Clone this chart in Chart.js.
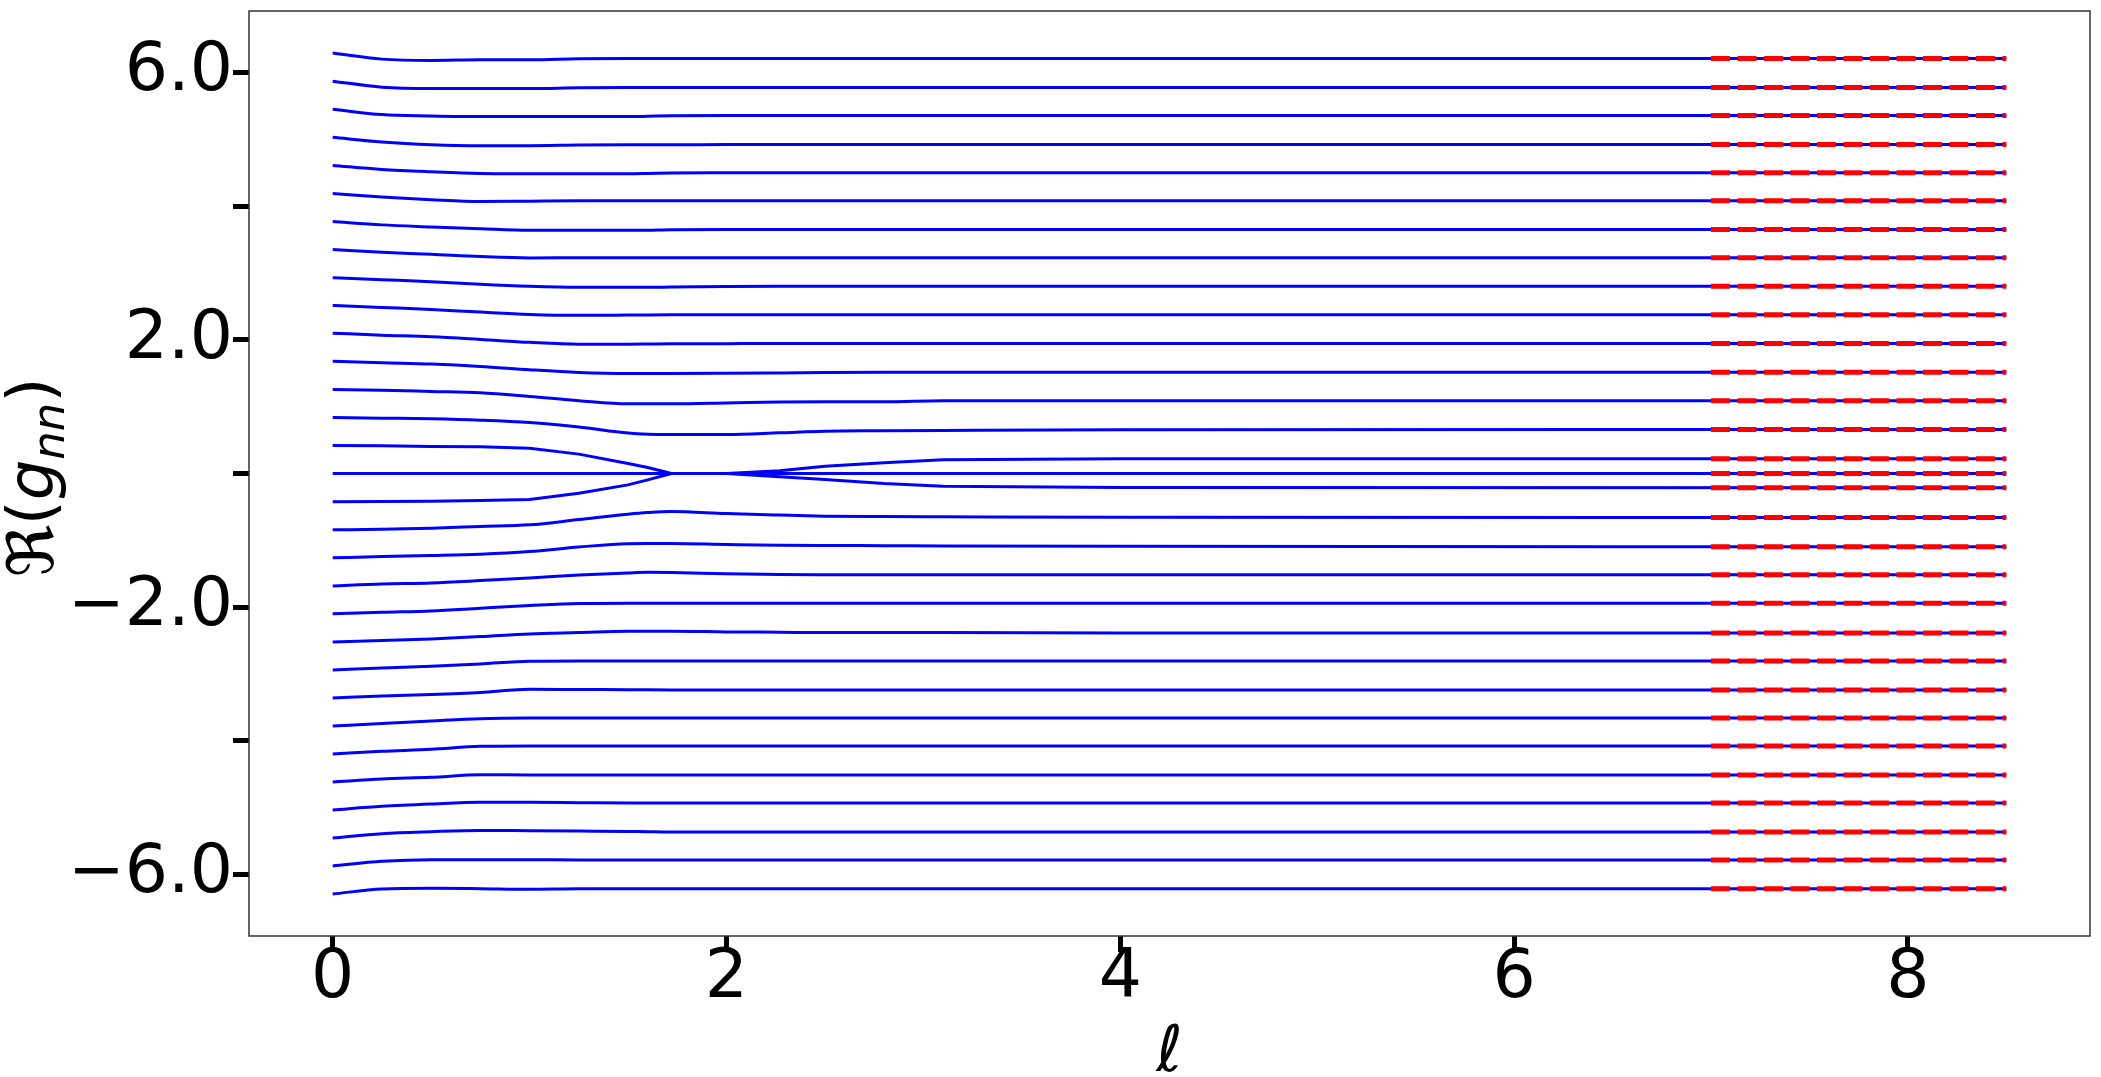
<!DOCTYPE html>
<html><head><meta charset="utf-8">
<script src="https://cdn.jsdelivr.net/npm/chart.js@4/dist/chart.umd.min.js"></script>
<style>html,body{margin:0;padding:0;background:#fff;}canvas{display:block;}</style>
</head><body>
<canvas id="c" width="2101" height="1077"></canvas>
<script>
// sample positions along ℓ (shared by all flow curves)
const xs = [0, 0.25, 0.5, 0.75, 1, 1.25, 1.5, 1.6, 1.72, 2, 2.27, 2.5, 2.8, 3.1, 4, 8.5];

const gP15 = [6.29, 6.20, 6.18, 6.19, 6.19, 6.205, 6.21, 6.21, 6.21, 6.21, 6.21, 6.21, 6.21, 6.21, 6.21, 6.21];
const gP14 = [5.87, 5.78, 5.76, 5.76, 5.76, 5.77, 5.774, 5.774, 5.774, 5.774, 5.774, 5.774, 5.774, 5.774, 5.774, 5.774];
const gP13 = [5.45, 5.37, 5.35, 5.34, 5.34, 5.34, 5.34, 5.345, 5.352, 5.355, 5.355, 5.355, 5.355, 5.355, 5.355, 5.355];
const gP12 = [5.03, 4.96, 4.92, 4.905, 4.905, 4.915, 4.92, 4.92, 4.92, 4.921, 4.921, 4.921, 4.921, 4.921, 4.921, 4.921];
const gP11 = [4.61, 4.55, 4.515, 4.49, 4.486, 4.486, 4.486, 4.49, 4.497, 4.50, 4.501, 4.501, 4.501, 4.501, 4.501, 4.501];
const gP10 = [4.19, 4.137, 4.097, 4.07, 4.075, 4.08, 4.08, 4.08, 4.08, 4.08, 4.08, 4.08, 4.08, 4.08, 4.08, 4.08];
const gP9  = [3.77, 3.72, 3.69, 3.663, 3.64, 3.638, 3.638, 3.64, 3.648, 3.65, 3.65, 3.65, 3.65, 3.65, 3.65, 3.65];
const gP8  = [3.35, 3.31, 3.28, 3.245, 3.225, 3.228, 3.229, 3.229, 3.229, 3.229, 3.229, 3.229, 3.229, 3.229, 3.229, 3.229];
const gP7  = [2.93, 2.90, 2.87, 2.83, 2.80, 2.785, 2.785, 2.785, 2.79, 2.797, 2.8, 2.8, 2.8, 2.8, 2.8, 2.8];
const gP6  = [2.515, 2.485, 2.455, 2.415, 2.38, 2.366, 2.37, 2.372, 2.374, 2.376, 2.376, 2.376, 2.376, 2.376, 2.376, 2.376];
const gP5  = [2.10, 2.07, 2.046, 2.006, 1.962, 1.935, 1.935, 1.937, 1.94, 1.943, 1.945, 1.946, 1.946, 1.946, 1.946, 1.946];
const gP4  = [1.68, 1.657, 1.637, 1.602, 1.552, 1.512, 1.497, 1.497, 1.497, 1.50, 1.505, 1.51, 1.515, 1.516, 1.516, 1.516];
const gP3  = [1.257, 1.247, 1.228, 1.208, 1.153, 1.09, 1.043, 1.043, 1.043, 1.055, 1.07, 1.073, 1.073, 1.088, 1.09, 1.09];
const gP2  = [0.838, 0.828, 0.818, 0.798, 0.763, 0.695, 0.605, 0.588, 0.584, 0.584, 0.609, 0.633, 0.64, 0.645, 0.655, 0.659];
const gP1  = [0.419, 0.414, 0.404, 0.399, 0.379, 0.29, 0.15, 0.09, 0, 0, 0.04, 0.11, 0.16, 0.205, 0.22, 0.22];
const g0   = [0, 0, 0, 0, 0, 0, 0, 0, 0, 0, 0, 0, 0, 0, 0, 0];
const gM1  = [-0.424, -0.42, -0.414, -0.405, -0.39, -0.295, -0.17, -0.095, 0, 0, -0.05, -0.09, -0.15, -0.19, -0.21, -0.214];
const gM2  = [-0.843, -0.833, -0.818, -0.793, -0.768, -0.69, -0.61, -0.585, -0.569, -0.60, -0.622, -0.638, -0.645, -0.648, -0.655, -0.66];
const gM3  = [-1.262, -1.243, -1.228, -1.208, -1.168, -1.10, -1.05, -1.048, -1.048, -1.063, -1.075, -1.078, -1.08, -1.085, -1.09, -1.097];
const gM4  = [-1.682, -1.652, -1.637, -1.602, -1.562, -1.52, -1.487, -1.477, -1.48, -1.50, -1.512, -1.514, -1.516, -1.516, -1.516, -1.516];
const gM5  = [-2.10, -2.076, -2.056, -2.016, -1.976, -1.945, -1.94, -1.94, -1.94, -1.94, -1.94, -1.94, -1.94, -1.94, -1.94, -1.94];
const gM6  = [-2.52, -2.50, -2.475, -2.44, -2.40, -2.38, -2.36, -2.36, -2.36, -2.37, -2.375, -2.38, -2.38, -2.38, -2.385, -2.385];
const gM7  = [-2.94, -2.91, -2.884, -2.849, -2.809, -2.804, -2.804, -2.804, -2.804, -2.804, -2.804, -2.804, -2.804, -2.804, -2.804, -2.804];
const gM8  = [-3.358, -3.328, -3.308, -3.278, -3.228, -3.232, -3.235, -3.237, -3.238, -3.238, -3.238, -3.238, -3.238, -3.238, -3.238, -3.238];
const gM9  = [-3.777, -3.742, -3.703, -3.668, -3.658, -3.657, -3.657, -3.657, -3.657, -3.657, -3.657, -3.657, -3.657, -3.657, -3.657, -3.657];
const gM10 = [-4.197, -4.157, -4.127, -4.082, -4.076, -4.076, -4.076, -4.076, -4.076, -4.076, -4.076, -4.076, -4.076, -4.076, -4.076, -4.076];
const gM11 = [-4.616, -4.571, -4.546, -4.506, -4.51, -4.51, -4.51, -4.51, -4.51, -4.51, -4.51, -4.51, -4.51, -4.51, -4.51, -4.51];
const gM12 = [-5.035, -4.98, -4.945, -4.92, -4.92, -4.925, -4.93, -4.93, -4.93, -4.93, -4.93, -4.93, -4.93, -4.93, -4.93, -4.93];
const gM13 = [-5.454, -5.389, -5.359, -5.34, -5.345, -5.35, -5.355, -5.36, -5.364, -5.364, -5.364, -5.364, -5.364, -5.364, -5.364, -5.364];
const gM14 = [-5.873, -5.803, -5.778, -5.778, -5.778, -5.783, -5.783, -5.783, -5.783, -5.783, -5.783, -5.783, -5.783, -5.783, -5.783, -5.783];
const gM15 = [-6.292, -6.217, -6.207, -6.212, -6.22, -6.213, -6.213, -6.213, -6.213, -6.213, -6.213, -6.213, -6.213, -6.213, -6.213, -6.213];

// fixed-point values (red dashed reference lines), drawn over ℓ in [7, 8.5]
const limits = [6.21, 5.774, 5.355, 4.921, 4.501, 4.08, 3.65, 3.229, 2.8, 2.376, 1.946, 1.516, 1.09, 0.659, 0.22, 0,
                -0.214, -0.66, -1.097, -1.516, -1.94, -2.385, -2.804, -3.238, -3.657, -4.076, -4.51, -4.93, -5.364, -5.783, -6.213];
const dashRange = [7, 8.5];

const xTickValues = [0, 2, 4, 6, 8];
const xTickLabels = ["0", "2", "4", "6", "8"];
const yTickValues = [-6, -4, -2, 0, 2, 4, 6];
const yTickLabels = ["\u22126.0", "", "\u22122.0", "", "2.0", "", "6.0"];
const xTitle = "\u2113";

const curves = [gP15, gP14, gP13, gP12, gP11, gP10, gP9, gP8, gP7, gP6, gP5, gP4, gP3, gP2, gP1, g0,
                gM1, gM2, gM3, gM4, gM5, gM6, gM7, gM8, gM9, gM10, gM11, gM12, gM13, gM14, gM15];
const cuspCurves = [gP1, gM1];

const datasets = [];
curves.forEach(arr => {
  const cusp = cuspCurves.includes(arr);
  datasets.push({
    data: xs.map((x, i) => ({x: x, y: arr[i]})),
    borderColor: '#0000ff', borderWidth: 3, pointRadius: 0,
    tension: cusp ? 0 : 0.4, cubicInterpolationMode: cusp ? 'default' : 'monotone',
    fill: false, order: 2
  });
});
limits.forEach(v => {
  datasets.push({
    data: dashRange.map(x => ({x: x, y: v})),
    borderColor: '#ff0000', borderWidth: 5, borderDash: [19, 7.5], borderCapStyle: 'butt',
    pointRadius: 0, tension: 0, fill: false, order: 1
  });
});

const decor = {
  id: 'decor',
  afterDraw(chart) {
    const {ctx, chartArea: a} = chart;
    ctx.save();
    ctx.strokeStyle = '#333333';
    ctx.lineWidth = 1.5;
    ctx.strokeRect(a.left, a.top, a.right - a.left, a.bottom - a.top);
    ctx.fillStyle = '#000';
    ctx.font = 'oblique 64px "DejaVu Sans"';
    ctx.textAlign = 'center';
    ctx.textBaseline = 'alphabetic';
    ctx.fillText(xTitle, (a.left + a.right) / 2, a.bottom + 135);
    // y title: ℜ(g_nn)
    const parts = [
      {t: '\u211C(', f: '64px "DejaVu Sans"', dy: 0},
      {t: 'g', f: 'oblique 64px "DejaVu Sans"', dy: 0},
      {t: 'nn', f: 'oblique 45px "DejaVu Sans"', dy: 11},
      {t: ')', f: '64px "DejaVu Sans"', dy: 0}
    ];
    let total = 0;
    parts.forEach(p => { ctx.font = p.f; p.w = ctx.measureText(p.t).width; total += p.w; });
    ctx.translate(53, (a.top + a.bottom) / 2 + 4);
    ctx.rotate(-Math.PI / 2);
    ctx.textAlign = 'left';
    let x = -total / 2;
    parts.forEach(p => { ctx.font = p.f; ctx.fillText(p.t, x, p.dy); x += p.w; });
    ctx.restore();
  }
};

new Chart(document.getElementById('c'), {
  type: 'line',
  data: {datasets: datasets},
  options: {
    responsive: false, animation: false, devicePixelRatio: 1,
    layout: {padding: {top: 11, right: 11, left: 0, bottom: 0}},
    plugins: {legend: {display: false}, tooltip: {enabled: false}},
    scales: {
      x: {
        type: 'linear', min: -0.425, max: 8.925,
        afterBuildTicks: s => { s.ticks = xTickValues.map(v => ({value: v})); },
        afterFit: s => { s.height = 141; s.paddingLeft = 0; s.paddingRight = 0; },
        ticks: {
          callback: v => xTickLabels[xTickValues.indexOf(v)],
          font: {family: '"DejaVu Sans"', size: 68, lineHeight: 1},
          color: '#000', padding: -7, maxRotation: 0, autoSkip: false
        },
        grid: {display: true, drawOnChartArea: false, drawTicks: true, tickLength: 16, tickWidth: 5, tickColor: '#000'},
        border: {display: false}
      },
      y: {
        type: 'linear', min: -6.92, max: 6.92,
        afterBuildTicks: s => { s.ticks = yTickValues.map(v => ({value: v})); },
        afterFit: s => { s.width = 249; s.paddingTop = 0; s.paddingBottom = 0; },
        ticks: {
          callback: v => yTickLabels[yTickValues.indexOf(v)],
          font: {family: '"DejaVu Sans"', size: 68, lineHeight: 1},
          color: '#000', padding: 0, autoSkip: false
        },
        grid: {display: true, drawOnChartArea: false, drawTicks: true, tickLength: 16, tickWidth: 5, tickColor: '#000'},
        border: {display: false}
      }
    }
  },
  plugins: [decor]
});
</script>
</body></html>
